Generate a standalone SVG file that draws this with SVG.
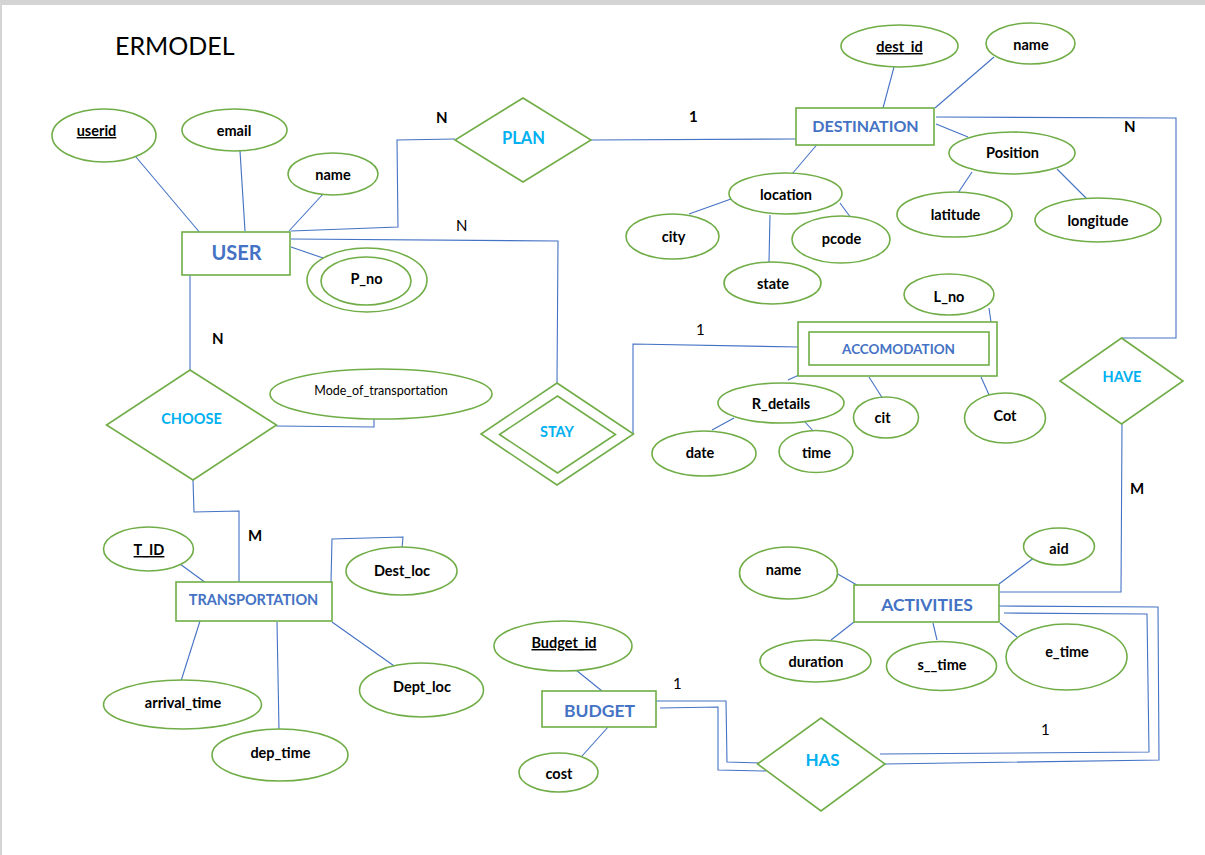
<svg xmlns="http://www.w3.org/2000/svg" width="1205" height="855" viewBox="0 0 1205 855">
<style>
.bg{fill:#ffffff}
.shape{fill:#ffffff;stroke:#70AD47;stroke-width:1.6}
.ln{fill:none;stroke:#4472C4;stroke-width:1.1}
.at{font-family:Lato,"Liberation Sans",sans-serif;font-weight:bold;font-size:14.5px;fill:#000000;text-anchor:middle}
.key{text-decoration:underline}
.en{font-family:Lato,"Liberation Sans",sans-serif;font-weight:bold;fill:#4472C4;text-anchor:middle}
.rel{font-family:Lato,"Liberation Sans",sans-serif;font-weight:bold;fill:#00B0F0;text-anchor:middle}
.card{font-family:Lato,"Liberation Sans",sans-serif;font-size:15px;fill:#000000}
.b{font-weight:bold}
</style>
<rect class="bg" x="0" y="0" width="1205" height="855"/>
<rect x="0" y="0" width="1205" height="5" fill="#d4d4d4"/>
<rect x="0" y="0" width="2" height="855" fill="#d4d4d4"/>
<text x="115" y="55" font-family="Lato,'Liberation Sans',sans-serif" font-size="25" fill="#000">ERMODEL</text>

<g id="connectors">
<polyline class="ln" points="136,157 201,234"/>
<polyline class="ln" points="240,151 245,231"/>
<polyline class="ln" points="324,193 289,231"/>
<polyline class="ln" points="291,231 398,227 397,140 455,139"/>
<polyline class="ln" points="291,239 558,241 557,383"/>
<polyline class="ln" points="291,247 323,258"/>
<polyline class="ln" points="190,275 190,370"/>
<polyline class="ln" points="591,140 796,139"/>
<polyline class="ln" points="894,67 883,108"/>
<polyline class="ln" points="994,57 935,108"/>
<polyline class="ln" points="936,124 968,137"/>
<polyline class="ln" points="820,141 792,174"/>
<polyline class="ln" points="936,117 1176,118 1176,338 1122,338"/>
<polyline class="ln" points="731,199 689,214"/>
<polyline class="ln" points="770,215 769,262"/>
<polyline class="ln" points="840,203 851,218"/>
<polyline class="ln" points="972,172 958,193"/>
<polyline class="ln" points="1057,169 1088,200"/>
<polyline class="ln" points="276,426 374,427 374,417"/>
<polyline class="ln" points="193,480 194,512 239,511 239,583"/>
<polyline class="ln" points="633,433 633,344 799,347"/>
<polyline class="ln" points="989,308 991,322"/>
<polyline class="ln" points="799,375 788,380"/>
<polyline class="ln" points="869,377 883,399"/>
<polyline class="ln" points="981,377 990,397"/>
<polyline class="ln" points="734,418 712,430"/>
<polyline class="ln" points="805,422 815,433"/>
<polyline class="ln" points="1122,424 1121,592 1000,592"/>
<polyline class="ln" points="180,564 206,583"/>
<polyline class="ln" points="331,582 332,539 403,537 402,548"/>
<polyline class="ln" points="332,622 397,668"/>
<polyline class="ln" points="200,621 181,681"/>
<polyline class="ln" points="277,622 279,730"/>
<polyline class="ln" points="576,670 602,691"/>
<polyline class="ln" points="609,726 582,756"/>
<polyline class="ln" points="656,701 726,701 727,762 761,763"/>
<polyline class="ln" points="660,708 718,707 718,770 766,771"/>
<polyline class="ln" points="836,573 862,588"/>
<polyline class="ln" points="1035,557 999,584"/>
<polyline class="ln" points="854,622 831,640"/>
<polyline class="ln" points="933,623 937,640"/>
<polyline class="ln" points="1000,623 1017,637"/>
<polyline class="ln" points="999,606 1158,607 1159,760 885,764"/>
<polyline class="ln" points="1004,613 1147,614 1149,752 880,754"/>
</g>

<g id="cardinalities">
<text class="card b" x="436" y="123" font-size="14">N</text>
<text class="card b" x="689" y="122" font-size="14">1</text>
<text class="card" x="456" y="231" font-size="18">N</text>
<text class="card b" x="1124" y="132">N</text>
<text class="card b" x="212" y="344">N</text>
<text class="card" x="696" y="335">1</text>
<text class="card b" x="1130" y="494">M</text>
<text class="card b" x="248" y="541">M</text>
<text class="card" x="673" y="689">1</text>
<text class="card" x="1041" y="735">1</text>
</g>

<g id="user">
<rect class="shape" x="182" y="232" width="108" height="43"/>
<text class="en" x="236.5" y="260" font-size="20">USER</text>
</g>
<g id="user_userid">
<ellipse class="shape" cx="104" cy="135.5" rx="52" ry="26.5"/>
<text class="at key" x="96.5" y="136">userid</text>
</g>
<g id="user_email">
<ellipse class="shape" cx="234.5" cy="130" rx="52.5" ry="21"/>
<text class="at" x="234" y="136">email</text>
</g>
<g id="user_name">
<ellipse class="shape" cx="333" cy="174" rx="45" ry="21"/>
<text class="at" x="333" y="180">name</text>
</g>
<g id="user_pno">
<ellipse class="shape" cx="367" cy="280" rx="60" ry="32"/>
<ellipse class="shape" cx="366" cy="281" rx="45" ry="24"/>
<text class="at" x="366.5" y="284">P_no</text>
</g>

<g id="plan">
<polygon class="shape" points="523,98 591,140 523,182 455,140"/>
<text class="rel" x="523.5" y="144" font-size="16.5">PLAN</text>
</g>

<g id="destination">
<rect class="shape" x="796" y="108" width="138" height="37"/>
<text class="en" x="865.5" y="132" font-size="16">DESTINATION</text>
</g>
<g id="dest_id">
<ellipse class="shape" cx="899.5" cy="46" rx="58.5" ry="21"/>
<text class="at key" x="899.5" y="52">dest_id</text>
</g>
<g id="dest_name">
<ellipse class="shape" cx="1030.5" cy="43.5" rx="44.5" ry="20.5"/>
<text class="at" x="1031" y="50">name</text>
</g>
<g id="dest_position">
<ellipse class="shape" cx="1012" cy="153" rx="63" ry="21"/>
<text class="at" x="1012.5" y="158">Position</text>
</g>
<g id="dest_latitude">
<ellipse class="shape" cx="954.5" cy="214.5" rx="57.5" ry="22.5"/>
<text class="at" x="955.5" y="220">latitude</text>
</g>
<g id="dest_longitude">
<ellipse class="shape" cx="1098" cy="220" rx="63" ry="22"/>
<text class="at" x="1098" y="226">longitude</text>
</g>
<g id="dest_location">
<ellipse class="shape" cx="785.5" cy="193.5" rx="56.5" ry="20.5"/>
<text class="at" x="786" y="200">location</text>
</g>
<g id="dest_city">
<ellipse class="shape" cx="672.5" cy="236.5" rx="46.5" ry="22.5"/>
<text class="at" x="673.5" y="242">city</text>
</g>
<g id="dest_pcode">
<ellipse class="shape" cx="841" cy="239.5" rx="49" ry="23.5"/>
<text class="at" x="841.5" y="244">pcode</text>
</g>
<g id="dest_state">
<ellipse class="shape" cx="772.5" cy="283" rx="48.5" ry="21"/>
<text class="at" x="773" y="289">state</text>
</g>

<g id="choose">
<polygon class="shape" points="190,370 276.5,425 193,480 106.5,425"/>
<text class="rel" x="191.5" y="424" font-size="14.5">CHOOSE</text>
</g>
<g id="choose_mode">
<ellipse class="shape" cx="381" cy="394" rx="111" ry="25"/>
<text x="381" y="395" font-family="Lato,'Liberation Sans',sans-serif" font-size="12.5" fill="#000" text-anchor="middle">Mode_of_transportation</text>
</g>

<g id="stay">
<polygon class="shape" points="557,383 633.5,434 557,485 481,434"/>
<polygon class="shape" points="557.5,396 615.5,434.5 557.5,473 499.5,434.5"/>
<text class="rel" x="557" y="437" font-size="14.5">STAY</text>
</g>

<g id="accomodation">
<rect class="shape" x="798" y="322" width="199" height="54"/>
<rect class="shape" x="809" y="332" width="180" height="33"/>
<text class="en" x="898.5" y="354" font-size="13.5">ACCOMODATION</text>
</g>
<g id="acc_lno">
<ellipse class="shape" cx="949" cy="294.5" rx="45" ry="20.5"/>
<text class="at" x="949" y="302">L_no</text>
</g>
<g id="acc_rdetails">
<ellipse class="shape" cx="781" cy="403" rx="63" ry="20"/>
<text class="at" x="781" y="409">R_details</text>
</g>
<g id="acc_date">
<ellipse class="shape" cx="704" cy="453.5" rx="52" ry="22.5"/>
<text class="at" x="700" y="458">date</text>
</g>
<g id="acc_time">
<ellipse class="shape" cx="816" cy="451.5" rx="37" ry="21"/>
<text class="at" x="816.5" y="458">time</text>
</g>
<g id="acc_cit">
<ellipse class="shape" cx="886" cy="417.5" rx="32.5" ry="20.5"/>
<text class="at" x="882.5" y="423">cit</text>
</g>
<g id="acc_cot">
<ellipse class="shape" cx="1005" cy="418" rx="40.5" ry="25"/>
<text class="at" x="1005" y="421">Cot</text>
</g>

<g id="have">
<polygon class="shape" points="1121.5,338 1183,381 1121.5,424 1060,381"/>
<text class="rel" x="1122" y="382" font-size="14.5">HAVE</text>
</g>

<g id="transportation">
<rect class="shape" x="176" y="582" width="156" height="39"/>
<text class="en" x="253.5" y="605" font-size="14.5">TRANSPORTATION</text>
</g>
<g id="tr_tid">
<ellipse class="shape" cx="148.5" cy="549" rx="45" ry="22"/>
<text class="at key" x="149" y="555">T_ID</text>
</g>
<g id="tr_destloc">
<ellipse class="shape" cx="401.5" cy="571" rx="55.5" ry="24"/>
<text class="at" x="402" y="576">Dest_loc</text>
</g>
<g id="tr_deptloc">
<ellipse class="shape" cx="421.5" cy="690" rx="62" ry="27"/>
<text class="at" x="422" y="692">Dept_loc</text>
</g>
<g id="tr_arrival">
<ellipse class="shape" cx="182.5" cy="704.5" rx="79" ry="24.5"/>
<text class="at" x="183" y="708">arrival_time</text>
</g>
<g id="tr_dep">
<ellipse class="shape" cx="280" cy="755" rx="68" ry="26"/>
<text class="at" x="280.5" y="758">dep_time</text>
</g>

<g id="budget">
<rect class="shape" x="542" y="691" width="114" height="36"/>
<text class="en" x="599.5" y="717" font-size="17.5">BUDGET</text>
</g>
<g id="budget_id">
<ellipse class="shape" cx="563" cy="646" rx="69" ry="25"/>
<text class="at key" x="564" y="648">Budget_id</text>
</g>
<g id="budget_cost">
<ellipse class="shape" cx="558.5" cy="772.5" rx="39.5" ry="19.5"/>
<text class="at" x="559" y="779">cost</text>
</g>

<g id="has">
<polygon class="shape" points="821,718 885,764 821,811 757.5,764"/>
<text class="rel" x="822.5" y="766" font-size="17">HAS</text>
</g>

<g id="activities">
<rect class="shape" x="854" y="585" width="145" height="37"/>
<text class="en" x="927" y="611" font-size="17.5">ACTIVITIES</text>
</g>
<g id="act_name">
<ellipse class="shape" cx="788.5" cy="573" rx="49" ry="26"/>
<text class="at" x="783.5" y="575">name</text>
</g>
<g id="act_aid">
<ellipse class="shape" cx="1059" cy="546.5" rx="35.5" ry="18.5"/>
<text class="at" x="1059" y="554">aid</text>
</g>
<g id="act_duration">
<ellipse class="shape" cx="815.5" cy="661" rx="55.5" ry="21"/>
<text class="at" x="816" y="667">duration</text>
</g>
<g id="act_stime">
<ellipse class="shape" cx="941.5" cy="666" rx="55" ry="24.5"/>
<text class="at" x="942" y="670">s__time</text>
</g>
<g id="act_etime">
<ellipse class="shape" cx="1066.5" cy="657" rx="60.5" ry="33"/>
<text class="at" x="1067" y="657">e_time</text>
</g>
</svg>
